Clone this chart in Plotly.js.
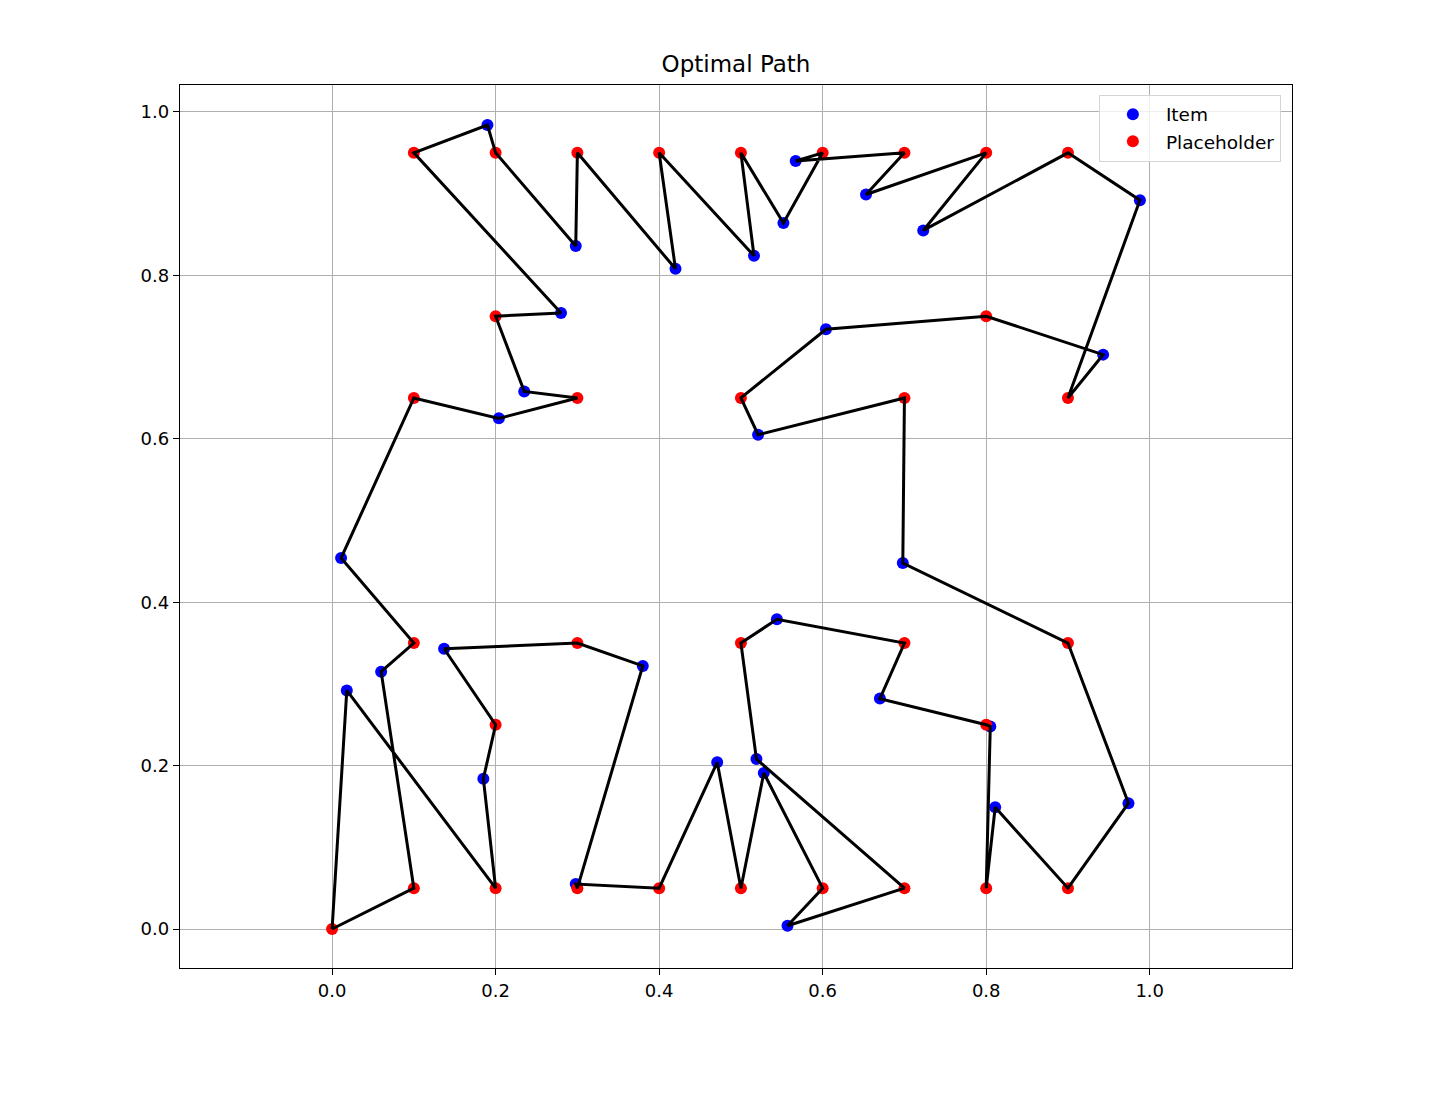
<!DOCTYPE html>
<html>
<head>
<meta charset="utf-8">
<script src="https://cdn.plot.ly/plotly-3.0.1.min.js"></script>
<style>
  html, body { margin: 0; padding: 0; background: #ffffff; }
  #chart { width: 1435px; height: 1095px; }
</style>
</head>
<body>
<div id="chart"></div>
<script>
// Items (blue)
const itemX = [0.190, 0.298, 0.420, 0.516, 0.567, 0.552, 0.653, 0.723, 0.988, 0.280,
               0.235, 0.204, 0.604, 0.943, 0.521, 0.011, 0.698, 0.137, 0.380, 0.060,
               0.018, 0.544, 0.670, 0.805, 0.185, 0.471, 0.519, 0.528, 0.811, 0.974,
               0.298, 0.557];
const itemY = [0.984, 0.836, 0.808, 0.824, 0.940, 0.864, 0.899, 0.855, 0.892, 0.754,
               0.658, 0.625, 0.734, 0.703, 0.605, 0.454, 0.448, 0.343, 0.322, 0.315,
               0.292, 0.379, 0.282, 0.248, 0.184, 0.204, 0.208, 0.191, 0.149, 0.154,
               0.055, 0.004];

// Placeholders (red)
const phX = [0.0,
             0.1, 0.2, 0.3, 0.4, 0.5, 0.6, 0.7, 0.8, 0.9,
             0.2, 0.8,
             0.1, 0.3, 0.5, 0.7, 0.9,
             0.1, 0.3, 0.5, 0.7, 0.9,
             0.2, 0.8,
             0.1, 0.2, 0.3, 0.4, 0.5, 0.6, 0.7, 0.8, 0.9];
const phY = [0.0,
             0.05, 0.05, 0.05, 0.05, 0.05, 0.05, 0.05, 0.05, 0.05,
             0.25, 0.25,
             0.35, 0.35, 0.35, 0.35, 0.35,
             0.65, 0.65, 0.65, 0.65, 0.65,
             0.75, 0.75,
             0.95, 0.95, 0.95, 0.95, 0.95, 0.95, 0.95, 0.95, 0.95];

// Visiting order of the optimal path (P = placeholder index, I = item index)
const pathOrder = ["P0","P1","I19","P12","I15","P17","I11","P18","I10","P22","I9",
  "P24","I0","P25","I1","P26","I2","P27","I3","P28","I5","P29","I4","P30","I6",
  "P31","I7","P32","I8","P21","I13","P23","I12","P19","I14","P20","I16","P16",
  "I29","P9","I28","P8","I23","P11","I22","P15","I21","P14","I26","P7","I31",
  "P6","I27","P5","I25","P4","I30","P3","I18","P13","I17","P10","I24","P2",
  "I20","P0"];

const xTicks = [0.0, 0.2, 0.4, 0.6, 0.8, 1.0];
const yTicks = [0.0, 0.2, 0.4, 0.6, 0.8, 1.0];

function lookup(key) {
  const idx = parseInt(key.slice(1), 10);
  return key[0] === "P" ? [phX[idx], phY[idx]] : [itemX[idx], itemY[idx]];
}
const pathX = pathOrder.map(k => lookup(k)[0]);
const pathY = pathOrder.map(k => lookup(k)[1]);

const FONT = "DejaVu Sans, Liberation Sans, sans-serif";

const traces = [
  {
    type: "scatter", mode: "markers", name: "Item",
    x: itemX, y: itemY,
    marker: { color: "#0000ff", size: 12 },
    hoverinfo: "x+y"
  },
  {
    type: "scatter", mode: "markers", name: "Placeholder",
    x: phX, y: phY,
    marker: { color: "#ff0000", size: 12 },
    hoverinfo: "x+y"
  },
  {
    type: "scatter", mode: "lines", name: "Path",
    x: pathX, y: pathY,
    line: { color: "#000000", width: 3 },
    showlegend: false,
    hoverinfo: "skip"
  }
];

const axisCommon = {
  showline: true, mirror: true, linecolor: "#000000", linewidth: 1.3,
  ticks: "outside", ticklen: 6, tickwidth: 1.3, tickcolor: "#000000",
  showgrid: true, gridcolor: "#b0b0b0", gridwidth: 1.3,
  zeroline: false,
  tickformat: ".1f",
  tickfont: { family: FONT, size: 18, color: "#000000" },
  tickmode: "array"
};

const layout = {
  width: 1435, height: 1095,
  paper_bgcolor: "#ffffff", plot_bgcolor: "#ffffff",
  margin: { l: 180, r: 143, t: 85, b: 127, pad: 0 },
  title: {
    text: "Optimal Path",
    font: { family: FONT, size: 23, color: "#000000" },
    x: 0.5, xref: "paper", xanchor: "center",
    y: 1 - 64 / 1095, yref: "container", yanchor: "middle"
  },
  xaxis: Object.assign({}, axisCommon, {
    range: [-0.186, 1.174], tickvals: xTicks
  }),
  yaxis: Object.assign({}, axisCommon, {
    range: [-0.0477, 1.033], tickvals: yTicks
  }),
  showlegend: true,
  legend: {
    x: 0.990, xanchor: "right", y: 0.989, yanchor: "top",
    bgcolor: "rgba(255,255,255,0.8)", bordercolor: "#d5d5d5", borderwidth: 1,
    font: { family: FONT, size: 18.5, color: "#000000" },
    itemwidth: 56, tracegroupgap: 0
  },
  hovermode: "closest"
};

Plotly.newPlot("chart", traces, layout, { displayModeBar: false, staticPlot: false });
</script>
</body>
</html>
